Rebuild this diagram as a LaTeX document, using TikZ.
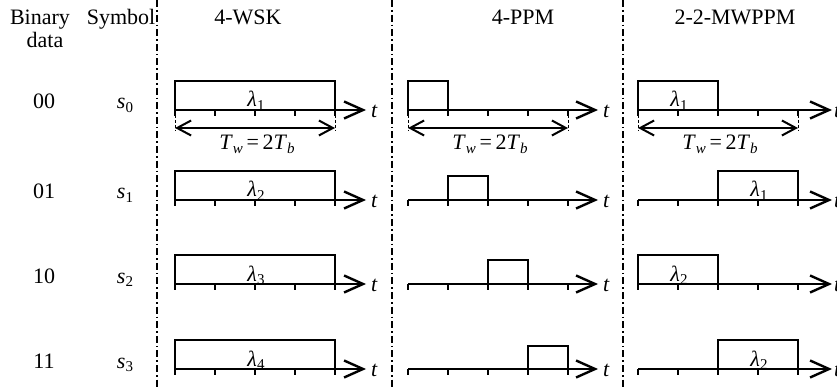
\documentclass[tikz,border=0pt]{standalone}
\usepackage{fontspec}
\setmainfont{Liberation Serif}
\usetikzlibrary{arrows.meta,calc}
\newcommand\subt[2]{#1\raisebox{-0.35ex}{\fontsize{15}{15}\selectfont #2}}
\newcommand\lam[1]{\subt{\textit{λ}}{#1}}
\newcommand\TwTb{\subt{\textit{T}}{\textit{w}}\,=\,2\subt{\textit{T}}{\textit{b}}}
\begin{document}
\begin{tikzpicture}[x=1pt,y=-1pt,
  every node/.style={font=\fontsize{22}{24}\selectfont, inner sep=0pt},
  axisline/.style={line width=2.4pt, -{Straight Barb[length=19pt,width=17pt]}},
  tickmark/.style={line width=1.7pt},
  pulse/.style={line width=1.5pt},
  divider/.style={line width=1.6pt, dash pattern=on 7pt off 3pt on 1.6pt off 3pt},
  span/.style={line width=2pt, {Straight Barb[length=14pt,width=15pt]}-{Straight Barb[length=14pt,width=15pt]}},
  guide/.style={line width=1pt, dash pattern=on 3pt off 2pt}]
\useasboundingbox (0,0) rectangle (837,387);

% dividers
\foreach \x [count=\i] in {157,392,623} {
  \coordinate (dtop\i) at (\x,0);
  \coordinate (dbot\i) at (\x,387);
  \draw[divider] (dtop\i) -- (dbot\i);
}

% headers
\node[anchor=base] (hbin) at (40,25) {Binary};
\node[anchor=base] (hdata) at (45,48) {data};
\node[anchor=base] (hsym) at (121,25) {Symbol};
\node[anchor=base] (hwsk) at (248,25) {4-WSK};
\node[anchor=base] (hppm) at (523,25) {4-PPM};
\node[anchor=base] (hmw) at (735,25) {2-2-MWPPM};

% row labels
\foreach \y/\bits [count=\r from 0] in {110/00,200/01,284/10,369/11} {
  \node[anchor=base] (bits\r) at (44,\y-1) {\bits};
  \node[anchor=base] (sym\r) at (125,\y-1) {\subt{\textit{s}}{\r}};
}

% pulses (drawn before axes)
\foreach \y [count=\r from 0] in {110,200,284,369} {
  \pgfmathtruncatemacro{\lr}{\r+1}
  % 4-WSK
  \draw[pulse] (175,\y) |- (335,\y-29) -- (335,\y);
  \node[anchor=base] (lw\r) at (256,\y-3) {\lam{\lr}};
}
% 4-PPM
\draw[pulse] (408,110) |- (448,81) -- (448,110);
\draw[pulse] (448,200) |- (488,176) -- (488,200);
\draw[pulse] (488,284) |- (528,260) -- (528,284);
\draw[pulse] (528,369) |- (568,346) -- (568,369);
% 2-2-MWPPM
\draw[pulse] (638,110) |- (718,81) -- (718,110);
\node[anchor=base] (lm0) at (679,107) {\lam{1}};
\draw[pulse] (718,200) |- (798,171) -- (798,200);
\node[anchor=base] (lm1) at (759,197) {\lam{1}};
\draw[pulse] (638,284) |- (718,255) -- (718,284);
\node[anchor=base] (lm2) at (679,281) {\lam{2}};
\draw[pulse] (718,369) |- (798,340) -- (798,369);
\node[anchor=base] (lm3) at (759,366) {\lam{2}};

% axes
\foreach \y [count=\r from 0] in {110,200,284,369} {
  \foreach \nm/\xa/\tip in {w/175/366, p/408/598, m/638/832} {
    \coordinate (\nm s\r) at (\xa,\y);
    \coordinate (\nm e\r) at (\tip,\y);
    \draw[axisline] (\nm s\r) -- (\nm e\r);
    \foreach \k in {0,...,4} \draw[tickmark] ($(\nm s\r)+(40*\k,0)$) -- ++(0,6);
  }
  \node[anchor=west] (wt\r) at ($(we\r)+(5,1)$) {\textit{t}};
  \node[anchor=west] (pt\r) at ($(pe\r)+(5,1)$) {\textit{t}};
  \node[anchor=west] (mt\r) at ($(me\r)+(2,1)$) {\textit{t}};
}

% period spans in first row
\foreach \nm/\xa/\xb in {w/175/335, p/408/568, m/638/798} {
  \coordinate (\nm L) at (\xa,128);
  \coordinate (\nm R) at (\xb,128);
  \draw[guide] (\xa,110) -- (\nm L) -- ++(0,3);
  \draw[guide] (\xb,110) -- (\nm R) -- ++(0,3);
  \draw[span] (\nm L) -- (\nm R);
  \node[anchor=base] (\nm T) at ($(\nm L)!0.5!(\nm R)+(2,22)$) {\TwTb};
}
\end{tikzpicture}
\end{document}
